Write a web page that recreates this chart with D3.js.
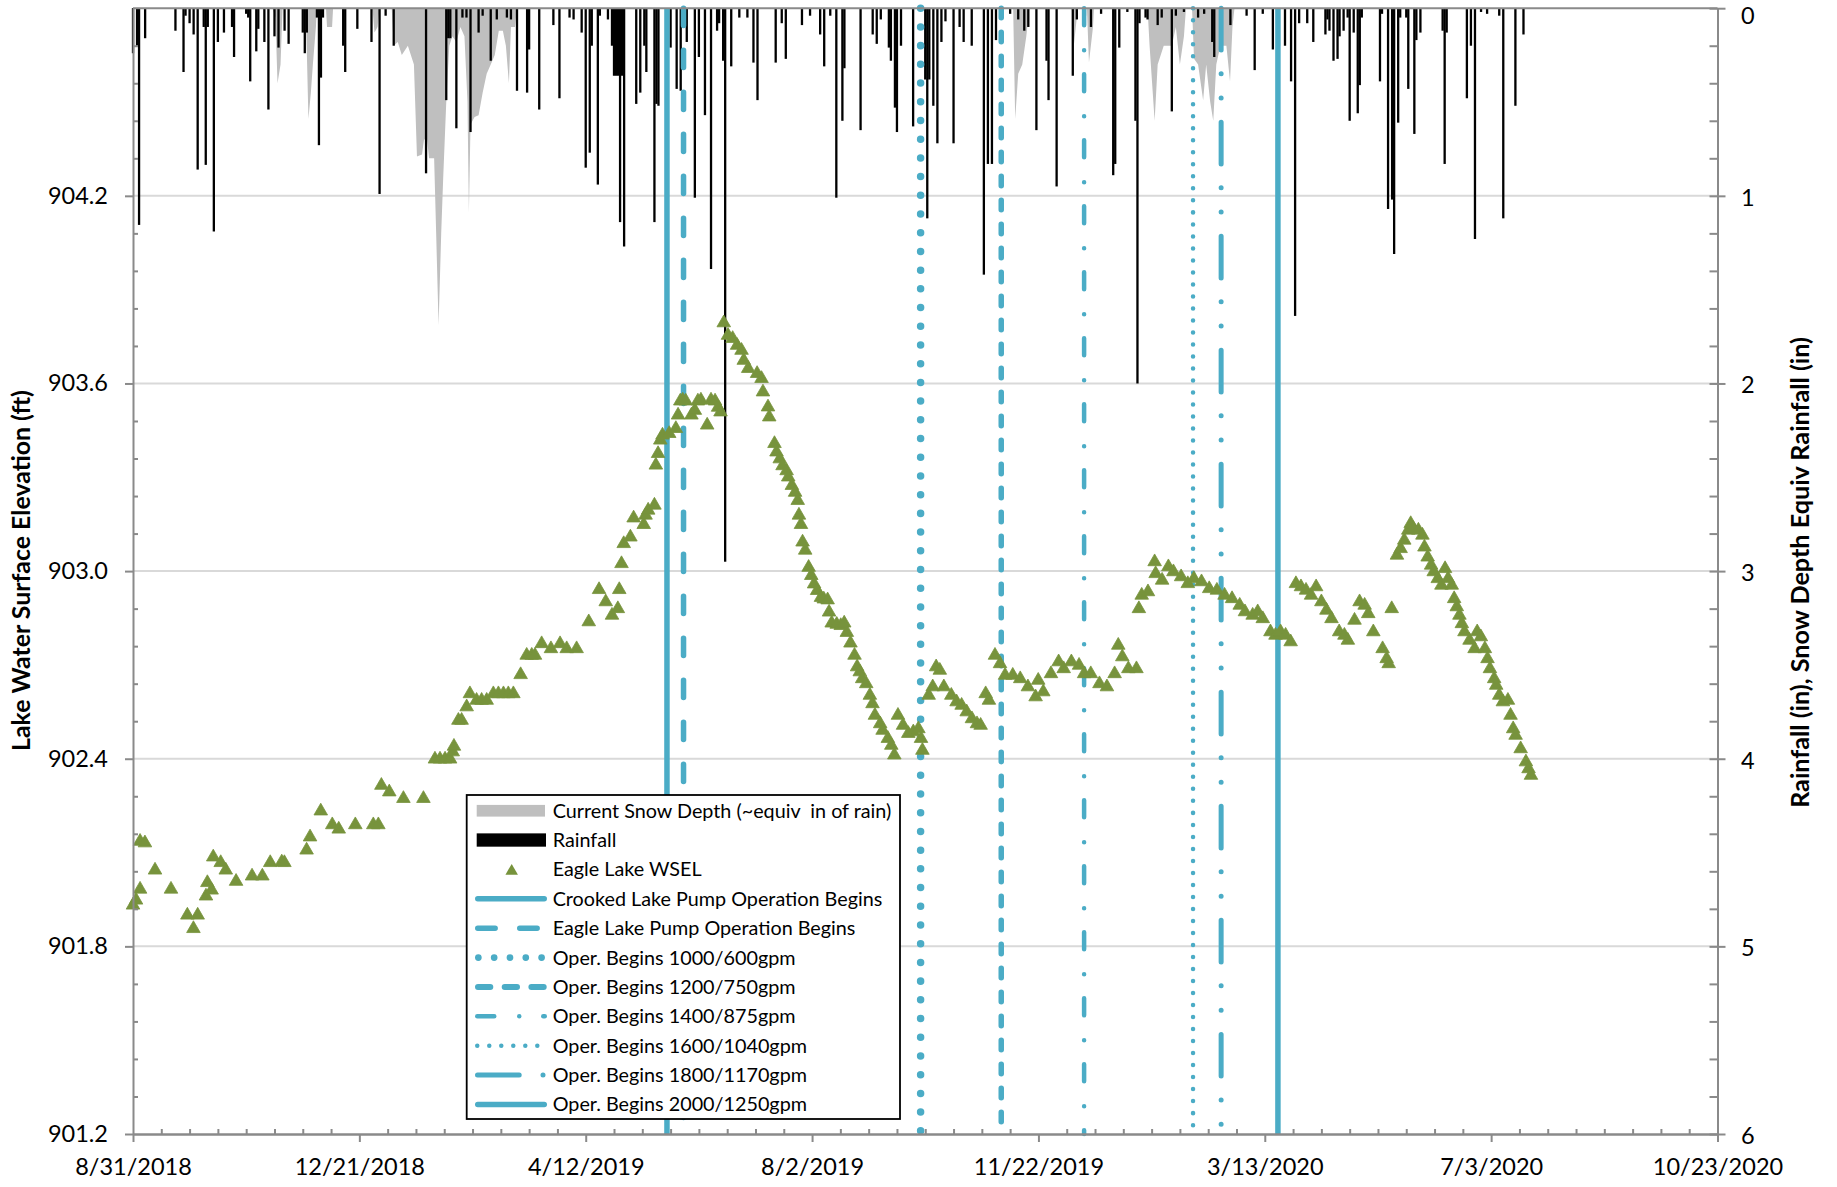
<!DOCTYPE html>
<html><head><meta charset="utf-8">
<script src="https://cdn.jsdelivr.net/npm/d3@7"></script>
<style>
html,body{margin:0;padding:0;background:#fff;}
svg{display:block;}
text{font-family: Lato, "Open Sans", sans-serif; fill:#000;}
</style></head><body>
<svg id="chart" width="1837" height="1187"></svg>
<script>
// ---------------- DATA ----------------
const startDate = Date.UTC(2018, 7, 31);           // 8/31/2018 = day 0
const axisEndDay = 784;                             // 10/23/2020
const xMajorDays = [0, 112, 224, 336, 448, 560, 672, 784];
const leftMajor = [901.2, 901.8, 902.4, 903.0, 903.6, 904.2];
const rightMajor = [0, 1, 2, 3, 4, 5, 6];

// Rainfall: [day since 8/31/2018, inches]
const rainfall = [[0,0.24],[2,0.2],[3,1.155],[6,0.16],[21,0.12],[25,0.34],[26,0.04],[28,0.08],[30,0.14],[32,0.86],[35,0.1],[36,0.835],[37,0.1],[40,1.19],[42,0.18],[45,0.13],[49,0.1],[50,0.26],[56,0.03],[57,0.05],[58,0.39],[61,0.23],[62,0.11],[65,0.18],[67,0.54],[70,0.15],[72,0.21],[75,0.12],[77,0.19],[84,0.13],[85,0.24],[86,0.13],[91,0.05],[92,0.73],[93,0.37],[94,0.05],[104,0.2],[105,0.34],[111,0.11],[118,0.18],[122,0.99],[125,0.04],[129,0.2],[145,0.88],[155,0.49],[156,0.16],[157,0.16],[160,0.64],[163,0.05],[165,0.05],[167,0.66],[171,0.13],[173,0.04],[177,0.28],[180,0.06],[185,0.05],[187,0.06],[190,0.44],
[195,0.45],[196,0.22],[201,0.54],[208,0.09],[211,0.48],[216,0.05],[218,0.06],[222,0.13],[224,0.85],[226,0.77],[227,0.2],[230,0.94],[231,0.04],[235,0.06],[237,0.2],[238,0.36],[239,0.36],[240,0.36],[241,1.14],[242,0.36],[243,1.27],[249,0.51],[251,0.45],[253,0.2],[254,0.34],[258,1.14],[259,0.51],[260,0.52],[266,0.21],[269,0.43],[271,0.44],[274,0.18],[278,1.01],[280,0.26],[283,0.57],[286,1.39],[289,0.12],[290,0.08],[292,0.28],[293,2.95],[296,0.31],[300,0.05],[304,0.05],[307,0.29],[309,0.49],[318,0.29],[321,0.08],[323,0.27],[331,0.09],[335,0.04],[340,0.14],[342,0.31],[345,0.04],[348,1.01],[351,0.6],[352,0.32],[360,0.65],[366,0.14],[368,0.19],[370,0.06],[374,0.21],[375,0.28],[377,0.53],[378,0.66],[380,0.2],
[386,0.63],[392,0.38],[393,1.12],[394,0.38],[396,0.52],[398,0.72],[400,0.18],[402,0.07],[406,0.72],[409,0.1],[411,0.18],[415,0.2],[421,1.42],[423,0.83],[425,0.83],[427,0.17],[434,0.03],[438,0.06],[441,0.12],[443,0.1],[447,0.65],[452,0.28],[453,0.49],[457,0.95],[465,0.36],[467,0.06],[471,0.04],[474,0.1],[479,0.03],[485,0.89],[486,0.83],[488,0.21],[492,0.02],[496,0.6],[497,2.0],[498,0.08],[501,0.05],[502,0.06],[507,0.09],[509,0.05],[514,0.55],[516,0.04],[520,0.02],[527,0.05],[530,0.03],[534,0.18],[535,0.26],[538,0.03],[543,0.09],[551,0.04],[555,0.33],[559,0.03],[564,0.22],[567,0.2],[570,0.2],[573,0.39],[575,1.64],[577,0.08],[581,0.08],[584,0.18],[590,0.14],[591,0.06],[592,0.12],[594,0.28],[596,0.27],[597,0.15],[599,0.12],[601,0.05],[602,0.6],[604,0.13],[606,0.56],[607,0.41],[608,0.05],[617,0.39],[618,0.03],[621,1.07],[623,1.02],[624,1.31],[626,0.61],[627,0.05],[630,0.05],[631,0.43],[634,0.67],[635,0.17],[637,0.13],[648,0.12],[649,0.83],[650,0.13],[660,0.48],[662,0.2],[664,1.23],[667,0.02],[670,0.03],[676,0.04],[678,1.12],[684,0.52],[688,0.14]];

// Current snow depth (~equiv in of rain): [day, inches]
const snowDepth = [[69,0],[70.5,0.05],[71.5,0.40],[73,0.30],[74,0],
[85.5,0],[86.8,0.59],[88,0.45],[89,0.30],[90.5,0.1],[91,0],
[95.5,0],[96,0.1],[98.5,0.1],[99,0],
[118.5,0],[119.5,0.13],[121,0.1],[122,0],
[128,0],[129,0.2],[131,0.18],[133,0.25],[136,0.2],[139,0.3],[140.5,0.79],[143,0.78],[144,0.7],[145.5,0.7],[146.5,0.8],[149,0.8],[150,1.2],[151.2,1.69],[152.5,1.2],[153.5,0.9],[155,0.5],[156.5,0.2],[158,0.15],[160,0.18],[162,0.1],[164,0.15],[165.5,0.5],[166.2,1.09],[167,0.62],[169,0.58],[171,0.57],[173,0.45],[175,0.35],[177,0.3],[179,0.25],[181,0.12],[183,0.12],[184.5,0.2],[186,0.4],[187,0.1],[189,0.1],[190,0],
[435.5,0],[436.5,0.59],[438,0.35],[440,0.3],[442,0.15],[443.5,0],
[464.5,0],[465.5,0.2],[467,0.05],[467.5,0],
[472,0],[473,0.29],[475,0.1],[475.5,0],
[502,0],[503,0.2],[505.5,0.6],[507,0.3],[510,0.2],[514,0.2],[516,0.1],[518,0.3],[520,0.15],[521,0],
[524,0],[525,0.27],[527,0.3],[529.5,0.49],[531,0.3],[533,0.5],[534.5,0.6],[536,0.3],[538,0.2],[541,0.2],[542.8,0.39],[544,0.1],[545,0]];

// Eagle Lake WSEL: [day, ft]
const wsel = [[0,901.938],[1.5,901.954],[3.5,901.989],[3.5,902.142],[5.9,902.137],[10.9,902.05],[18.8,901.989],[26.9,901.906],[29.9,901.863],[32,901.906],[36.1,901.967],[36.8,902.01],[38.9,901.986],[39.7,902.092],[43.4,902.074],[45.9,902.05],[51,902.014],[58.9,902.031],[64,902.031],[67.9,902.074],[73.6,902.076],[74.9,902.074],[85.9,902.114],[87.6,902.156],[92.9,902.239],[98.6,902.195],[101.8,902.181],[110,902.195],[118.9,902.195],[121.4,902.195],[122.9,902.321],[126.8,902.30],[133.8,902.279],[143.7,902.279],[149.4,902.405],[151.9,902.405],[154.4,902.405],[156.9,902.405],[158.2,902.428],[158.8,902.446],[161,902.529],[162.6,902.529],[165.1,902.572],[166.7,902.614],[170,902.593],[172.5,902.593],[175,902.593],[178.3,902.614],[180.8,902.614],[183.3,902.614],[185.7,902.614],[188.2,902.614],[191.8,902.675],[194.8,902.737],[197.3,902.737],[198.9,902.737],[202.2,902.774],[206.8,902.758],[211.3,902.774],[214.6,902.758],[219.5,902.758],
[225.5,902.844],[230.6,902.947],[233.9,902.908],[237,902.865],[239.9,902.886],[240.6,902.947],[241.7,903.03],[242.8,903.094],[246.1,903.115],[247.7,903.176],[252.7,903.155],[253.6,903.185],[254.9,903.201],[258,903.217],[258.7,903.345],[259.8,903.382],[260.9,903.425],[262,903.441],[265.3,903.446],[268.6,903.462],[269.7,903.505],
[270.8,903.55],[272,903.553],[273.5,903.55],[276.3,903.505],[278,903.52],[279.5,903.55],[281,903.553],[284.1,903.473],[286,903.553],[288,903.55],[289.5,903.53],[290.7,903.515],
[292.3,903.80],[294.4,903.76],[296.7,903.75],[298.9,903.728],[301.1,903.712],[302.2,903.68],[304.4,903.654],[308.8,903.638],[311,903.622],[311.7,903.579],
[314.2,903.531],[314.8,903.499],[317.4,903.414],[318.4,903.387],[320,903.365],[321.4,903.343],[323.4,903.327],[324.2,903.307],[326,903.28],[327.6,903.258],[328.9,903.232],[329.5,903.185],[330.5,903.155],[331.3,903.099],[332.6,903.073],[334.3,903.018],[335.6,902.992],[337,902.965],[338.5,902.944],[340.4,902.922],[341.8,902.917],[343.7,902.914],[344.4,902.875],[345.7,902.84],[348.2,902.836],[350.2,902.832],[351.9,902.84],[353.2,902.81],[355,902.776],[357,902.737],[358.3,902.70],[359.6,902.684],[360.8,902.662],[362.8,902.646],[364.6,902.609],[365.9,902.582],[367.1,902.545],[369.7,902.518],[370.9,902.497],[373.5,902.471],[375.2,902.449],[376.7,902.418],
[378.5,902.545],[381,902.513],[383.6,902.487],[386.1,902.492],[388.6,902.502],[389.9,902.471],[390.6,902.433],
[393.7,902.609],[395.7,902.636],[397.4,902.70],[399.2,902.689],[401.2,902.636],[404.9,902.609],[407.5,902.588],[410,902.577],[412.5,902.556],[415.1,902.534],[417.6,902.518],[419.4,902.513],
[421.9,902.614],[423.5,902.593],
[426.5,902.737],[429,902.71],[431.5,902.673],[435.3,902.673],[439,902.662],[442.8,902.636],[446.6,902.604],[447.9,902.657],[450.4,902.62],[454.2,902.678],[458,902.716],[460.5,902.694],[464.3,902.716],[468.1,902.705],[470.6,902.678],[473.9,902.678],[478.2,902.646],[481.9,902.636],[485.7,902.678],[487.5,902.769],[489.5,902.732],[492.5,902.694],[496.5,902.694],
[497.7,902.886],[499.1,902.929],[502.2,902.94],[505.5,903.036],[506,902.998],[509.2,902.977],[512.3,903.02],[514.8,903.004],[518.6,902.988],[521.9,902.966],[524.9,902.982],[528.7,902.972],[532.5,902.95],[536.3,902.945],[540.1,902.929],[543.8,902.918],[547.6,902.897],[550.2,902.876],[554,902.865],[556.5,902.876],[559,902.854],[562.8,902.812],[565.3,902.801],[567.8,902.812],[570.3,902.801],[572.8,902.78],
[575.4,902.966],[577.9,902.956],[580.4,902.945],[582.9,902.929],[585.4,902.956],[588,902.908],[590.5,902.881],[593,902.854],[596.8,902.812],[599.4,902.801],[601.1,902.785],[604.4,902.849],[606.9,902.908],[609.4,902.897],[611.2,902.87],[613.7,902.812],[618.3,902.758],[620.3,902.726],[621.3,902.71],[622.8,902.886],
[625.4,903.057],[627.2,903.078],[629,903.105],[631,903.137],[632.2,903.158],[633.5,903.142],[636,903.137],[638,903.121],[639,903.083],[640.6,903.051],[642.3,903.025],[643.6,903.004],[645.6,902.982],[647.4,902.961],[649.2,903.014],[650.7,902.982],[652.5,902.961],[653.7,902.918],[655,902.892],[656.3,902.865],[657.5,902.838],[658.8,902.812],[661.3,902.785],[663.8,902.758],[665.1,902.812],[666.9,902.796],[668.9,902.758],[670.2,902.726],[671.4,902.694],[673.5,902.662],[674.5,902.641],[676,902.609],[677.8,902.588],[680.3,902.593],[681.6,902.545],[682.9,902.502],[684.1,902.481],[686.6,902.438],[689.2,902.396],[690.5,902.374],[691.7,902.353]];

// Operation start markers (vertical lines)
const eventNames = ["Crooked Lake Pump Operation Begins", "Eagle Lake Pump Operation Begins",
  "Oper. Begins 1000/600gpm", "Oper. Begins 1200/750gpm", "Oper. Begins 1400/875gpm",
  "Oper. Begins 1600/1040gpm", "Oper. Begins 1800/1170gpm", "Oper. Begins 2000/1250gpm"];
const eventDays = [264.2, 272.4, 389.7, 429.6, 470.6, 524.5, 538.4, 566.5];
const legendLabels = ["Current Snow Depth (~equiv  in of rain)", "Rainfall", "Eagle Lake WSEL"].concat(eventNames);

// ---------------- STYLES / LAYOUT ----------------
const BLUE = "#4bacc6", GREEN = "#77933c", AXIS = "#8a8a8a", GRID = "#d9d9d9";
const lineStyles = [
  {w:5.5, dash:null},
  {w:5.5, dash:"17.4 24.6"},
  {w:7.5, dash:"0.01 18.7"},
  {w:5.5, dash:"9.5 14.5"},
  {w:4.5, dash:"17 25 0.01 24"},
  {w:4.5, dash:"0.01 12"},
  {w:5,   dash:"41.7 23.8 0.01 24.3 0.01 24.2"},
  {w:5.5, dash:null}
];
const legendLineStyles = lineStyles.map((s,i) => i===2 ? {w:6.7, dash:"0.01 15.8"} : i===3 ? {w:6, dash:"12.3 14.4"} : s);

const M = {left:133, right:1717.5, top:8.2, bottom:1134};
const day = d => new Date(startDate + d * 86400000);
const x = d3.scaleUtc().domain([day(0), day(axisEndDay)]).range([M.left, M.right]);
const yL = d3.scaleLinear().domain([901.2, 904.8]).range([M.bottom, M.top]);
const yR = d3.scaleLinear().domain([0, 6]).range([M.top, M.bottom]);
const svg = d3.select("#chart");
const FONT = 23.5;

// gridlines
svg.append("g").selectAll("line").data(leftMajor.slice(1)).join("line")
  .attr("x1", M.left).attr("x2", M.right)
  .attr("y1", d => yL(d)).attr("y2", d => yL(d))
  .attr("stroke", GRID).attr("stroke-width", 2);

// snow area
svg.append("path").datum(snowDepth)
  .attr("fill", "#bfbfbf")
  .attr("d", d3.area().x(d => x(day(d[0]))).y0(yR(0)).y1(d => yR(d[1])));

// rainfall bars
const barW = 2.3;
svg.append("g").selectAll("rect").data(rainfall).join("rect")
  .attr("x", d => x(day(d[0])) - barW / 2).attr("width", barW)
  .attr("y", yR(0)).attr("height", d => yR(d[1]) - yR(0))
  .attr("fill", "#000");

// vertical event lines
svg.append("g").selectAll("line").data(eventDays).join("line")
  .attr("x1", d => x(day(d))).attr("x2", d => x(day(d)))
  .attr("y1", M.top).attr("y2", M.bottom)
  .attr("stroke", BLUE)
  .attr("stroke-width", (d,i) => lineStyles[i].w)
  .attr("stroke-dasharray", (d,i) => lineStyles[i].dash)
  .attr("stroke-linecap", (d,i) => lineStyles[i].dash ? "round" : "butt");

// WSEL triangles
const triSize = 80, triH = Math.sqrt(triSize * 4 / Math.sqrt(3)) * Math.sqrt(3) / 2;
const tri = d3.symbol(d3.symbolTriangle, triSize)();
svg.append("g").selectAll("path").data(wsel).join("path")
  .attr("d", tri)
  .attr("transform", d => `translate(${x(day(d[0]))},${yL(d[1]) + triH / 6})`)
  .attr("fill", GREEN).attr("stroke", GREEN).attr("stroke-width", 0.8).attr("stroke-linejoin", "round");

// ---------------- AXES ----------------
// top line (secondary category axis)
svg.append("line").attr("x1", M.left).attr("x2", M.right).attr("y1", M.top).attr("y2", M.top)
  .attr("stroke", AXIS).attr("stroke-width", 2);

function styleAxis(g) {
  g.select(".domain").attr("stroke", AXIS).attr("stroke-width", 2);
  g.selectAll(".tick line").attr("stroke", AXIS).attr("stroke-width", 2);
  g.selectAll("text").attr("fill", "#000").style("font-size", FONT + "px").style("font-family", "Lato");
}

// left axis
const leftMinor = d3.range(0, 31).map(i => 901.2 + i * 0.12).filter((v,i) => i % 5 !== 0);
svg.append("g").attr("transform", `translate(${M.left},0)`)
  .call(d3.axisLeft(yL).tickValues(leftMinor).tickSize(-5).tickFormat(""))
  .call(g => g.select(".domain").remove())
  .call(styleAxis);
svg.append("g").attr("transform", `translate(${M.left},0)`)
  .call(d3.axisLeft(yL).tickValues(leftMajor).tickSize(8).tickSizeOuter(0).tickPadding(17).tickFormat(d3.format(".1f")))
  .call(styleAxis);

// right axis
const rightMinor = d3.range(0, 31).map(i => i * 0.2).filter((v,i) => i % 5 !== 0);
svg.append("g").attr("transform", `translate(${M.right},0)`)
  .call(d3.axisRight(yR).tickValues(rightMinor).tickSize(-8).tickFormat(""))
  .call(g => g.select(".domain").remove())
  .call(styleAxis);
svg.append("g").attr("transform", `translate(${M.right},0)`)
  .call(d3.axisRight(yR).tickValues(rightMajor).tickSize(8).tickSizeOuter(0).tickPadding(15.5).tickFormat(d3.format("d")))
  .call(g => g.selectAll(".tick line").attr("x1", -8))
  .call(styleAxis)
  .call(g => g.selectAll("text").attr("y", d => d === 0 ? 8 : 1.8));

// bottom axis
const fmt = d => `${d.getUTCMonth() + 1}/${d.getUTCDate()}/${d.getUTCFullYear()}`;
const xMinorDays = d3.range(0, axisEndDay + 1, 14).filter(d => d % 112 !== 0);
svg.append("g").attr("transform", `translate(0,${M.bottom})`)
  .call(d3.axisBottom(x).tickValues(xMinorDays.map(day)).tickSize(-5).tickFormat(""))
  .call(g => g.select(".domain").remove())
  .call(styleAxis);
svg.append("g").attr("transform", `translate(0,${M.bottom})`)
  .call(d3.axisBottom(x).tickValues(xMajorDays.map(day)).tickSize(8).tickSizeOuter(0).tickFormat(fmt))
  .call(styleAxis)
  .call(g => g.select(".domain").attr("stroke-width", 2.5))
  .call(g => g.selectAll("text").attr("dy", null).attr("y", 41));

// axis titles
function fit(sel, target) {
  const l = sel.node().getComputedTextLength();
  const fs = parseFloat(sel.style("font-size"));
  sel.style("font-size", (fs * target / l) + "px");
}
const tl = svg.append("text").attr("transform", "translate(30,570.5) rotate(-90)")
  .attr("text-anchor", "middle").style("font-weight", "bold").style("font-size", "22px")
  .text("Lake Water Surface Elevation (ft)");
fit(tl, 361);
const tr = svg.append("text").attr("transform", "translate(1809,572.5) rotate(-90)")
  .attr("text-anchor", "middle").style("font-weight", "bold").style("font-size", "22px")
  .text("Rainfall (in), Snow Depth Equiv Rainfall (in)");
fit(tr, 471);

// ---------------- LEGEND ----------------
const lg = svg.append("g");
lg.append("rect").attr("x", 466.7).attr("y", 795).attr("width", 433.3).attr("height", 324)
  .attr("fill", "#fff").attr("stroke", "#000").attr("stroke-width", 1.8);
const rowY = i => 810.7 + i * 29.37;
const symL = 475, symR = 547, textX = 552.7;
lg.append("rect").attr("x", 476.7).attr("y", rowY(0) - 5.8).attr("width", 68.3).attr("height", 11.7).attr("fill", "#bfbfbf");
lg.append("rect").attr("x", 476.7).attr("y", rowY(1) - 6.7).attr("width", 69.3).attr("height", 13.3).attr("fill", "#000");
lg.append("path").attr("d", d3.symbol(d3.symbolTriangle, 68)()).attr("transform", `translate(511.7,${rowY(2) + 1.7})`).attr("fill", GREEN);
eventNames.forEach((n, i) => {
  const s = legendLineStyles[i];
  lg.append("line").attr("x1", symL + s.w / 2).attr("x2", symR - s.w / 2)
    .attr("y1", rowY(i + 3)).attr("y2", rowY(i + 3))
    .attr("stroke", BLUE).attr("stroke-width", s.w)
    .attr("stroke-dasharray", s.dash).attr("stroke-linecap", "round");
});
const lt = lg.selectAll("text.lab").data(legendLabels).join("text").attr("class", "lab")
  .attr("x", textX).attr("y", (d,i) => rowY(i) + 7)
  .style("white-space", "pre").style("font-size", "19.5px")
  .text(d => d);
const l0 = lt.filter((d,i) => i === 0);
fit(l0, 339);
lt.style("font-size", l0.style("font-size"));
</script>
</body></html>
